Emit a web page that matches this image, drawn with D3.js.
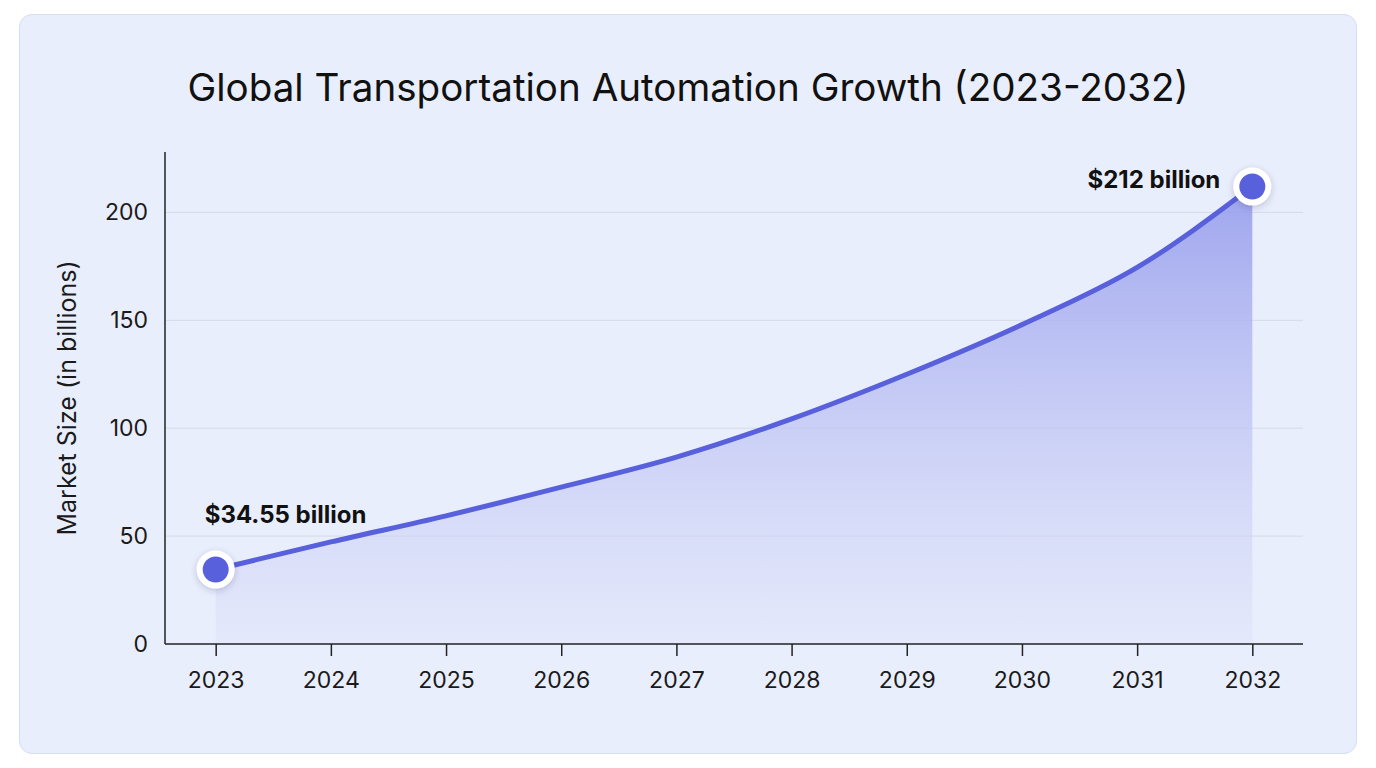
<!DOCTYPE html>
<html>
<head>
<meta charset="utf-8">
<script src="https://cdn.jsdelivr.net/npm/d3@7"></script>
<style>
  body { margin: 0; background: #ffffff; font-family: Inter, "Noto Sans", sans-serif; }
  .card { position: absolute; left: 19px; top: 14px; width: 1338px; height: 740px;
    background: #e9eefc; border: 1.5px solid #d6ddf0; border-radius: 13px; box-sizing: border-box; }
  svg { position: absolute; left: 0; top: 0; }
</style>
</head>
<body>
<div class="card"></div>
<div id="chart"></div>
<script>
var years = ['2023', '2024', '2025', '2026', '2027', '2028', '2029', '2030', '2031', '2032']
var marketSize = [34.55, 47.3, 59.4, 72.7, 86.6, 104.3, 125, 148, 174.5, 212]
var yTicks = [0, 50, 100, 150, 200]
var startLabel = '$34.55 billion'
var endLabel = '$212 billion'

var width = 1376
var height = 768
var margin = {top: 152, right: 73, bottom: 124, left: 165}

var data = years.map(function(y, i) { return {year: y, value: marketSize[i]} })

var svg = d3.select('#chart')
  .append('svg')
  .attr('width', width)
  .attr('height', height)

var defs = svg.append('defs')
var grad = defs.append('linearGradient')
  .attr('id', 'areaFill')
  .attr('x1', 0).attr('y1', 0).attr('x2', 0).attr('y2', 1)
grad.append('stop').attr('offset', '0%').attr('stop-color', '#959cec').attr('stop-opacity', 0.9)
grad.append('stop').attr('offset', '100%').attr('stop-color', '#dfe3fa').attr('stop-opacity', 0.5)

var shadow = defs.append('filter').attr('id', 'dotShadow')
  .attr('x', '-50%').attr('y', '-50%').attr('width', '200%').attr('height', '200%')
shadow.append('feDropShadow')
  .attr('dx', 0).attr('dy', 2).attr('stdDeviation', 3)
  .attr('flood-color', '#2a2f6b').attr('flood-opacity', 0.25)

var x = d3.scalePoint()
  .domain(years)
  .range([margin.left, width - margin.right])
  .padding(0.44)

var y = d3.scaleLinear()
  .domain([0, 228])
  .range([height - margin.bottom, margin.top])

// title
svg.append('text')
  .attr('x', 688)
  .attr('y', 101)
  .attr('text-anchor', 'middle')
  .attr('font-size', 38.6)
  .attr('font-weight', 400)
  .attr('fill', '#111')
  .text('Global Transportation Automation Growth (2023-2032)')

// grid
svg.append('g')
  .selectAll('line')
  .data(yTicks.filter(function(d) { return d > 0 }))
  .enter().append('line')
  .attr('x1', margin.left)
  .attr('x2', width - margin.right)
  .attr('y1', function(d) { return y(d) })
  .attr('y2', function(d) { return y(d) })
  .attr('stroke', '#d7dae6')
  .attr('stroke-width', 1)

// area + line
var area = d3.area()
  .x(function(d) { return x(d.year) })
  .y0(y(0))
  .y1(function(d) { return y(d.value) })
  .curve(d3.curveMonotoneX)

var line = d3.line()
  .x(function(d) { return x(d.year) })
  .y(function(d) { return y(d.value) })
  .curve(d3.curveMonotoneX)

svg.append('path')
  .datum(data)
  .attr('d', area)
  .attr('fill', 'url(#areaFill)')

svg.append('path')
  .datum(data)
  .attr('d', line)
  .attr('fill', 'none')
  .attr('stroke', '#5860dc')
  .attr('stroke-width', 5)
  .attr('stroke-linecap', 'round')

// axes
var xAxis = svg.append('g')
  .attr('transform', 'translate(0,' + y(0) + ')')
  .call(d3.axisBottom(x).tickSize(12).tickSizeOuter(0))
xAxis.select('.domain').attr('stroke', '#222').attr('stroke-width', 1.5)
  .attr('d', 'M' + margin.left + ',0H' + (width - margin.right))
xAxis.selectAll('.tick line').attr('stroke', '#222').attr('stroke-width', 1.5)
xAxis.selectAll('.tick text')
  .attr('dy', 0).attr('y', 44)
  .attr('font-size', 23).attr('font-family', 'Inter, sans-serif').attr('fill', '#1a1a1a')

var yAxis = svg.append('g')
  .attr('transform', 'translate(' + margin.left + ',0)')
  .call(d3.axisLeft(y).tickValues(yTicks).tickSize(0).tickPadding(17))
yAxis.select('.domain').attr('stroke', '#222').attr('stroke-width', 1.5)
  .attr('d', 'M0,' + margin.top + 'V' + y(0))
yAxis.selectAll('.tick text')
  .attr('font-size', 23).attr('font-family', 'Inter, sans-serif').attr('fill', '#1a1a1a')

svg.append('text')
  .attr('transform', 'translate(76,' + ((margin.top + y(0)) / 2) + ') rotate(-90)')
  .attr('text-anchor', 'middle')
  .attr('font-size', 25)
  .attr('fill', '#1a1a1a')
  .text('Market Size (in billions)')

// end points
var ends = [data[0], data[data.length - 1]]
svg.append('g')
  .selectAll('circle')
  .data(ends)
  .enter().append('circle')
  .attr('cx', function(d) { return x(d.year) })
  .attr('cy', function(d) { return y(d.value) })
  .attr('r', 16)
  .attr('fill', '#5860dc')
  .attr('stroke', '#fff')
  .attr('stroke-width', 6)
  .attr('filter', 'url(#dotShadow)')

svg.append('text')
  .attr('x', x(data[0].year) - 11)
  .attr('y', y(data[0].value) - 46)
  .attr('font-size', 24)
  .attr('font-weight', 700)
  .attr('fill', '#111')
  .text(startLabel)

svg.append('text')
  .attr('x', x(data[data.length - 1].year) - 32)
  .attr('y', y(data[data.length - 1].value) + 1)
  .attr('text-anchor', 'end')
  .attr('font-size', 24)
  .attr('font-weight', 700)
  .attr('fill', '#111')
  .text(endLabel)
</script>
</body>
</html>
